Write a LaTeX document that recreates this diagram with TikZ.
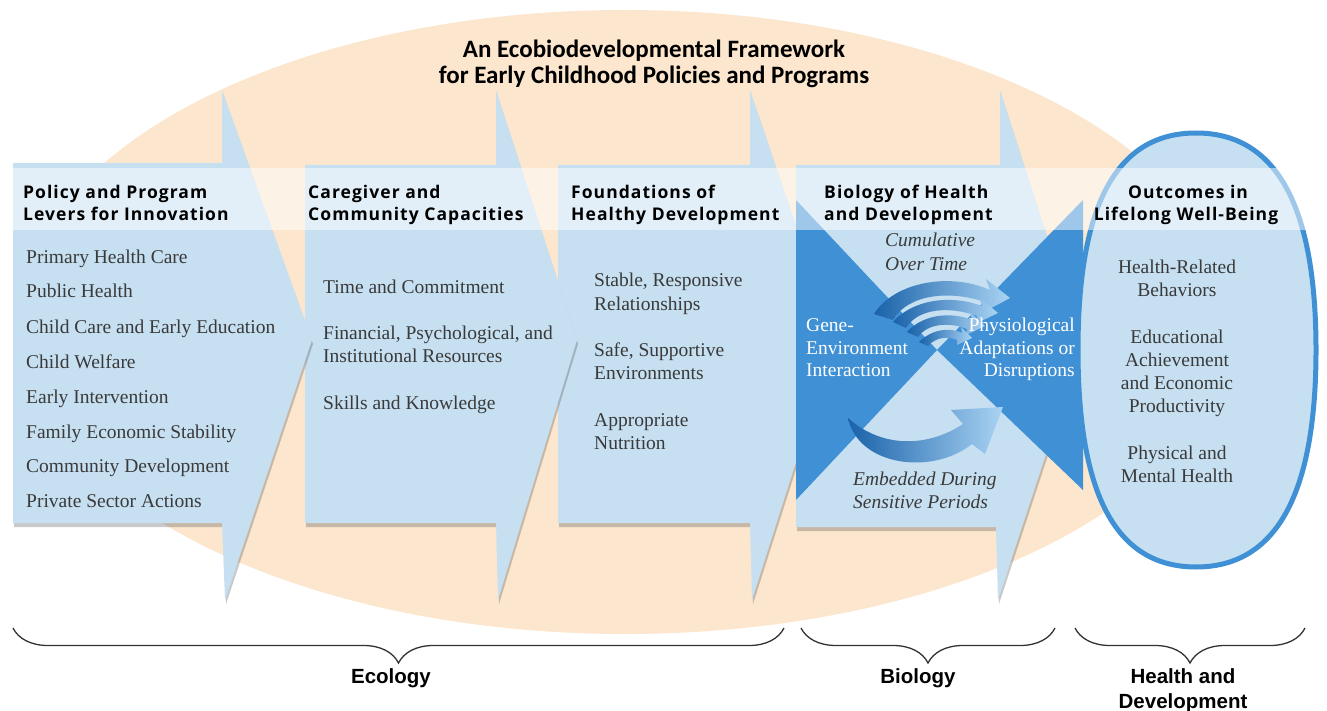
\documentclass[tikz,border=0pt]{standalone}
\usepackage{fontspec}
\setmainfont{Liberation Serif}
\newfontfamily\hdfont{Open Sans}[LetterSpace=6]
\newfontfamily\ttlfont{Carlito}
\newfontfamily\brfont{Liberation Sans}
\usetikzlibrary{shadows,decorations.pathreplacing}
\definecolor{beige}{HTML}{FCE6CD}
\definecolor{pblue}{HTML}{C6DFF1}
\definecolor{dblue}{HTML}{3F90D4}
\definecolor{swdark}{HTML}{1A62AA}
\definecolor{swlight}{HTML}{A9D3F3}
\definecolor{txt}{HTML}{3A3A3A}
\definecolor{brcol}{HTML}{333333}
\begin{document}
\begin{tikzpicture}[x=1pt,y=-1pt,
 panel/.style={fill=pblue, draw=none, drop shadow={shadow xshift=1pt, shadow yshift=-4pt, opacity=0.3, fill=black!70}},
 item/.style={font=\fontsize{19.5}{23}\selectfont, text=txt, inner sep=0pt, anchor=base west},
 itemc/.style={item, anchor=base},
 itemr/.style={item, anchor=base east},
 wtxt/.style={item, text=white},
 wtxtr/.style={itemr, text=white},
 ital/.style={item, font=\fontsize{19.5}{23}\selectfont\itshape},
 hd/.style={font=\hdfont\bfseries\fontsize{17.5}{20}\selectfont, text=black, inner sep=0pt, anchor=base west},
 hdc/.style={hd, anchor=base},
 ttl/.style={font=\ttlfont\bfseries\fontsize{25}{28}\selectfont, text=black, inner sep=0pt, anchor=base},
 blab/.style={font=\brfont\bfseries\fontsize{20.5}{24}\selectfont, text=black, inner sep=0pt, anchor=base},
 brc/.style={draw=brcol, line width=1.3pt, decorate, decoration={brace, amplitude=35pt, aspect=0.5}},
 swoosh/.style={left color=swdark, right color=swlight},
]
\useasboundingbox (0,0) rectangle (1327,711);
\clip (0,0) rectangle (1327,711);
% background ellipse
\fill[beige] (625,322) ellipse [x radius=605, y radius=312];
% chevron panels
\path[panel] (558,165) -- (750,165) -- (750,90) -- (835,340) -- (752,600) -- (750,523) -- (558,523) -- cycle;
\path[panel] (305,165) -- (496,165) -- (496,90) -- (577,340) -- (498,600) -- (496,523) -- (305,523) -- cycle;
\path[panel] (13,163) -- (222,163) -- (222,90) -- (312,340) -- (225,600) -- (222,523) -- (13,523) -- cycle;
\path[panel] (796,165) -- (1000,165) -- (1000,90) -- (1082,345) -- (998,600) -- (996,527) -- (796,527) -- cycle;
% bowtie
\fill[dblue] (796,200) -- (937,350) -- (796,500) -- cycle;
\fill[dblue] (1083,200) -- (937,350) -- (1083,490) -- cycle;
% swooshes (top: feathered stack)
\shade[swoosh] (874,314) .. controls (894,282) and (950,272) .. (990,290) -- (986,279) -- (1010,298) -- (982,313) -- (985,302) .. controls (950,290) and (908,294) .. (893,320) -- cycle;
\shade[swoosh] (893,322) .. controls (912,300) and (950,294) .. (982,306) -- (979,297) -- (998,313) -- (975,324) -- (977,316) .. controls (950,306) and (918,308) .. (906,328) -- cycle;
\shade[swoosh] (907,332) .. controls (922,315) and (950,311) .. (972,320) -- (970,312) -- (985,326) -- (966,335) -- (967,329) .. controls (950,322) and (928,323) .. (918,337) -- cycle;
\shade[swoosh] (919,342) .. controls (932,329) and (950,327) .. (962,333) -- (961,327) -- (972,338) -- (957,345) -- (957,340) .. controls (948,336) and (936,337) .. (928,346) -- cycle;
% bottom swoosh
\shade[swoosh] (848,418) .. controls (858,466) and (932,476) .. (972,444) -- (985,454) -- (1003,407) -- (951,410) -- (963,424) .. controls (930,446) and (884,450) .. (848,418) -- cycle;
% outcomes ellipse
\path[fill=pblue, draw=dblue, line width=5pt] (1196,133) .. controls (1277,133) and (1316,207) .. (1316,350) .. controls (1316,493) and (1277,567) .. (1196,567) .. controls (1115,567) and (1078,493) .. (1078,350) .. controls (1078,207) and (1115,133) .. cycle;
% header band
\fill[white, opacity=0.5] (0,168) rectangle (1327,230);
% title
\node[ttl] (t1) at (654,58) {An Ecobiodevelopmental Framework};
\node[ttl] (t2) at (654,84) {for Early Childhood Policies and Programs};
% headers
\node[hd] (h1a) at (23,199) {Policy and Program};
\node[hd] (h1b) at (23,221) {Levers for Innovation};
\node[hd] (h2a) at (308,199) {Caregiver and};
\node[hd] (h2b) at (308,221) {Community Capacities};
\node[hd] (h3a) at (571,199) {Foundations of};
\node[hd] (h3b) at (571,221) {Healthy Development};
\node[hd] (h4a) at (824,199) {Biology of Health};
\node[hd] (h4b) at (824,221) {and Development};
\node[hdc] (h5a) at (1188,199) {Outcomes in};
\node[hdc] (h5b) at (1186,221) {Lifelong Well-Being};
% panel 1
\node[item] (p1a) at (26,263) {Primary Health Care};
\node[item] (p1b) at (26,298) {Public Health};
\node[item] (p1c) at (26,333) {Child Care and Early Education};
\node[item] (p1d) at (26,368) {Child Welfare};
\node[item] (p1e) at (26,403) {Early Intervention};
\node[item] (p1f) at (26,438) {Family Economic Stability};
\node[item] (p1g) at (26,472) {Community Development};
\node[item] (p1h) at (26,507) {Private Sector Actions};
% panel 2
\node[item] (p2a) at (323,293) {Time and Commitment};
\node[item] (p2b) at (323,339) {Financial, Psychological, and};
\node[item] (p2c) at (323,362) {Institutional Resources};
\node[item] (p2d) at (323,409) {Skills and Knowledge};
% panel 3
\node[item] (p3a) at (594,287) {Stable, Responsive};
\node[item] (p3b) at (594,310) {Relationships};
\node[item] (p3c) at (594,356) {Safe, Supportive};
\node[item] (p3d) at (594,379) {Environments};
\node[item] (p3e) at (594,426) {Appropriate};
\node[item] (p3f) at (594,449) {Nutrition};
% panel 4
\node[ital] (p4a) at (885,247) {Cumulative};
\node[ital] (p4b) at (885,270) {Over Time};
\node[wtxt] (p4c) at (806,331) {Gene-};
\node[wtxt] (p4d) at (806,354) {Environment};
\node[wtxt] (p4e) at (806,376) {Interaction};
\node[wtxtr] (p4f) at (1075,331) {Physiological};
\node[wtxtr] (p4g) at (1075,354) {Adaptations or};
\node[wtxtr] (p4h) at (1075,376) {Disruptions};
\node[ital] (p4i) at (853,485) {Embedded During};
\node[ital] (p4j) at (853,508) {Sensitive Periods};
% outcomes
\node[itemc] (p5a) at (1177,273) {Health-Related};
\node[itemc] (p5b) at (1177,296) {Behaviors};
\node[itemc] (p5c) at (1177,343) {Educational};
\node[itemc] (p5d) at (1177,366) {Achievement};
\node[itemc] (p5e) at (1177,389) {and Economic};
\node[itemc] (p5f) at (1177,412) {Productivity};
\node[itemc] (p5g) at (1177,459) {Physical and};
\node[itemc] (p5h) at (1177,482) {Mental Health};
% braces
\coordinate (e1) at (784,628); \coordinate (e0) at (13,628);
\coordinate (b1) at (1055,628); \coordinate (b0) at (801,628);
\coordinate (o1) at (1305,628); \coordinate (o0) at (1075,628);
\draw[brc] (e1) -- (e0);
\draw[brc] (b1) -- (b0);
\draw[brc] (o1) -- (o0);
\node[blab] (lE) at (391,683) {Ecology};
\node[blab] (lB) at (918,683) {Biology};
\node[blab] (lH1) at (1183,683) {Health and};
\node[blab] (lH2) at (1183,708) {Development};
\end{tikzpicture}
\end{document}
